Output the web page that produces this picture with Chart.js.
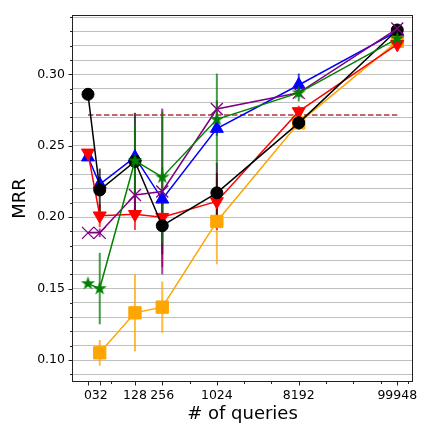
<!DOCTYPE html>
<html>
<head>
<meta charset="utf-8">
<script src="https://cdn.jsdelivr.net/npm/chart.js@4.4.1/dist/chart.umd.min.js"></script>
<style>
  html, body { margin: 0; padding: 0; background: #fff; }
  #wrap { width: 427px; height: 440px; }
</style>
</head>
<body>
<div id="wrap"><canvas id="mrrChart" width="427" height="440"></canvas></div>
<script>
// ---- data ----
const queries = [0, 32, 128, 256, 1024, 8192, 99948];
const xMajorTicks = [0, 32, 128, 256, 1024, 8192, 99948];
const xMinorTicks = [64, 512, 2048, 4096, 16384, 32768, 65536, 131072];
const yMajorTicks = [0.10, 0.15, 0.20, 0.25, 0.30];

const blackMrr  = [0.286, 0.219, 0.239, 0.194, 0.217, 0.266, 0.331];
const blackErr  = [0, 0.015, 0.034, 0.020, 0.021, 0.005, 0.002];
const redMrr    = [0.245, 0.201, 0.202, 0.200, 0.211, 0.274, 0.321];
const redErr    = [0, 0.008, 0.011, 0.035, 0.020, 0.004, 0.003];
const blueMrr   = [0.242, 0.223, 0.242, 0.2125, 0.262, 0.2925, 0.330];
const blueErr   = [0, 0.005, 0.004, 0.004, 0.005, 0.008, 0.002];
const greenMrr  = [0.1535, 0.150, 0.2395, 0.228, 0.2685, 0.287, 0.325];
const greenErr  = [0, 0.025, 0.025, 0.046, 0.032, 0.006, 0.003];
const purpleMrr = [0.189, 0.189, 0.2155, 0.218, 0.2757, 0.287, 0.332];
const purpleErr = [0, 0.003, 0.010, 0.058, 0.006, 0.003, 0.002];
const orangeMrr = [null, 0.105, 0.133, 0.137, 0.197, 0.266, 0.323];
const orangeErr = [0, 0.009, 0.027, 0.018, 0.030, 0.003, 0.003];
const baselineMrr = 0.2715;

// ---- symlog (base 2) x transform, linear below 128 ----
const LIN_THRESH = 128;
const LIN_SCALE = 1.72;
function symlog2(q) {
  return q <= LIN_THRESH ? LIN_SCALE * q / LIN_THRESH : LIN_SCALE + Math.log2(q / LIN_THRESH);
}

function makeStar(color, outer) {
  const size = Math.ceil(outer * 2) + 2;
  const c = document.createElement("canvas");
  c.width = c.height = size;
  const g = c.getContext("2d");
  const inner = outer * 0.382;
  g.beginPath();
  for (let i = 0; i < 10; i++) {
    const r = i % 2 ? inner : outer;
    const ang = -Math.PI / 2 + i * Math.PI / 5;
    g.lineTo(size / 2 + r * Math.cos(ang), size / 2 + r * Math.sin(ang));
  }
  g.closePath();
  g.fillStyle = color;
  g.fill();
  return c;
}

// missing values are simply left out (orange has no point at 0)
function toPoints(values) {
  return values
    .map((v, i) => ({ x: symlog2(queries[i]), y: v, i }))
    .filter((p) => p.y != null);
}

function makeSeries(label, color, errColor, values, errors, style) {
  return {
    label,
    data: toPoints(values),
    errors,
    errorColor: errColor,
    borderColor: color,
    backgroundColor: color,
    borderWidth: 1.5,
    pointBorderColor: color,
    pointBackgroundColor: color,
    pointBorderWidth: 1,
    tension: 0,
    ...style,
  };
}

// first dataset is drawn on top
const datasets = [
  makeSeries("green", "#008000", "rgba(0,128,0,0.75)", greenMrr, greenErr,
    { pointStyle: makeStar("#008000", 7.5), pointRadius: 7 }),
  makeSeries("purple", "#800080", "rgba(128,0,128,0.75)", purpleMrr, purpleErr,
    { pointStyle: "crossRot", pointRadius: 8.5, pointBorderWidth: 1.3 }),
  makeSeries("black", "#000000", "rgba(0,0,0,0.75)", blackMrr, blackErr,
    { pointStyle: "circle", pointRadius: 6 }),
  makeSeries("red", "#ff0000", "rgba(255,0,0,0.75)", redMrr, redErr,
    { pointStyle: "triangle", pointRadius: 7.5, pointRotation: 180 }),
  makeSeries("blue", "#0000ff", "rgba(0,0,255,0.75)", blueMrr, blueErr,
    { pointStyle: "triangle", pointRadius: 7.5 }),
  makeSeries("orange", "#ffa500", "rgba(255,165,0,0.75)", orangeMrr, orangeErr,
    { pointStyle: "rect", pointRadius: 8.7 }),
  {
    label: "baseline",
    data: [
      { x: symlog2(queries[0]), y: baselineMrr },
      { x: symlog2(queries[queries.length - 1]), y: baselineMrr },
    ],
    borderColor: "rgba(165,42,42,0.7)",
    borderWidth: 2,
    borderDash: [5.5, 2.5],
    pointRadius: 0,
  },
];

/* ---------- plugins: error bars + frame / tick marks ---------- */
const errorBars = {
  id: "errorBars",
  beforeDatasetsDraw(chart) {
    const { ctx, scales: { x, y } } = chart;
    ctx.save();
    ctx.lineWidth = 2;
    for (let d = chart.data.datasets.length - 1; d >= 0; d--) {
      const ds = chart.data.datasets[d];
      if (!ds.errors) continue;
      ctx.strokeStyle = ds.errorColor;
      ds.data.forEach((p) => {
        const e = ds.errors[p.i];
        if (!e) return;
        const px = x.getPixelForValue(p.x);
        ctx.beginPath();
        ctx.moveTo(px, y.getPixelForValue(p.y - e));
        ctx.lineTo(px, y.getPixelForValue(p.y + e));
        ctx.stroke();
      });
    }
    ctx.restore();
  },
};

const frameTicks = {
  id: "frameTicks",
  afterDraw(chart) {
    const { ctx, chartArea: a, scales: { x, y } } = chart;
    ctx.save();
    ctx.strokeStyle = "#222";
    ctx.lineWidth = 1;
    const L = Math.round(a.left) + 0.5, R = Math.round(a.right) - 0.5;
    const T = Math.round(a.top) + 0.5, B = Math.round(a.bottom) - 0.5;
    ctx.strokeRect(L, T, R - L, B - T);
    ctx.beginPath();
    y.ticks.forEach((t) => {
      const py = Math.round(y.getPixelForValue(t.value)) + 0.5;
      const major = yMajorTicks.some((m) => Math.abs(m - t.value) < 1e-6);
      ctx.moveTo(L, py);
      ctx.lineTo(L - (major ? 4 : 2.5), py);
    });
    xMajorTicks.forEach((q) => {
      const px = Math.round(x.getPixelForValue(symlog2(q))) + 0.5;
      ctx.moveTo(px, B);
      ctx.lineTo(px, B + 4);
    });
    xMinorTicks.forEach((q) => {
      const px = Math.round(x.getPixelForValue(symlog2(q))) + 0.5;
      ctx.moveTo(px, B);
      ctx.lineTo(px, B + 2.5);
    });
    ctx.stroke();
    ctx.restore();
  },
};

const tickFont = { family: "DejaVu Sans", size: 12.5 };
const titleFont = { family: "DejaVu Sans", size: 18 };

new Chart(document.getElementById("mrrChart"), {
  type: "line",
  data: { datasets },
  options: {
    responsive: false,
    animation: false,
    events: [],
    layout: { padding: { left: 0, top: 15, right: 14, bottom: 0 } },
    plugins: { legend: { display: false }, tooltip: { enabled: false } },
    scales: {
      x: {
        type: "linear",
        min: -0.586,
        max: 11.905,
        afterBuildTicks: (s) => { s.ticks = xMajorTicks.map((q) => ({ value: symlog2(q) })); },
        afterFit: (s) => { s.height = 58; },
        ticks: {
          autoSkip: false,
          maxRotation: 0,
          padding: 6,
          color: "#000",
          font: tickFont,
          callback: (v, i) => String(xMajorTicks[i]),
        },
        grid: { drawOnChartArea: false, drawTicks: false },
        border: { display: false },
        title: { display: true, text: "# of queries", color: "#000", font: titleFont, padding: { top: 0, bottom: 15 } },
      },
      y: {
        type: "linear",
        min: 0.0846,
        max: 0.3415,
        afterBuildTicks: (s) => {
          const t = [];
          for (let k = 9; k <= 34; k++) t.push({ value: k / 100 });
          s.ticks = t;
        },
        afterFit: (s) => { s.width = 72; },
        ticks: {
          autoSkip: false,
          padding: 7,
          color: "#000",
          font: tickFont,
          callback: (v) => (yMajorTicks.some((m) => Math.abs(m - v) < 1e-6) ? v.toFixed(2) : ""),
        },
        grid: { color: "#c0c0c0", lineWidth: 1, drawTicks: false },
        border: { display: false },
        title: { display: true, text: "MRR", color: "#000", font: titleFont, padding: { top: 10, bottom: 0 } },
      },
    },
  },
  plugins: [errorBars, frameTicks],
});
</script>
</body>
</html>
